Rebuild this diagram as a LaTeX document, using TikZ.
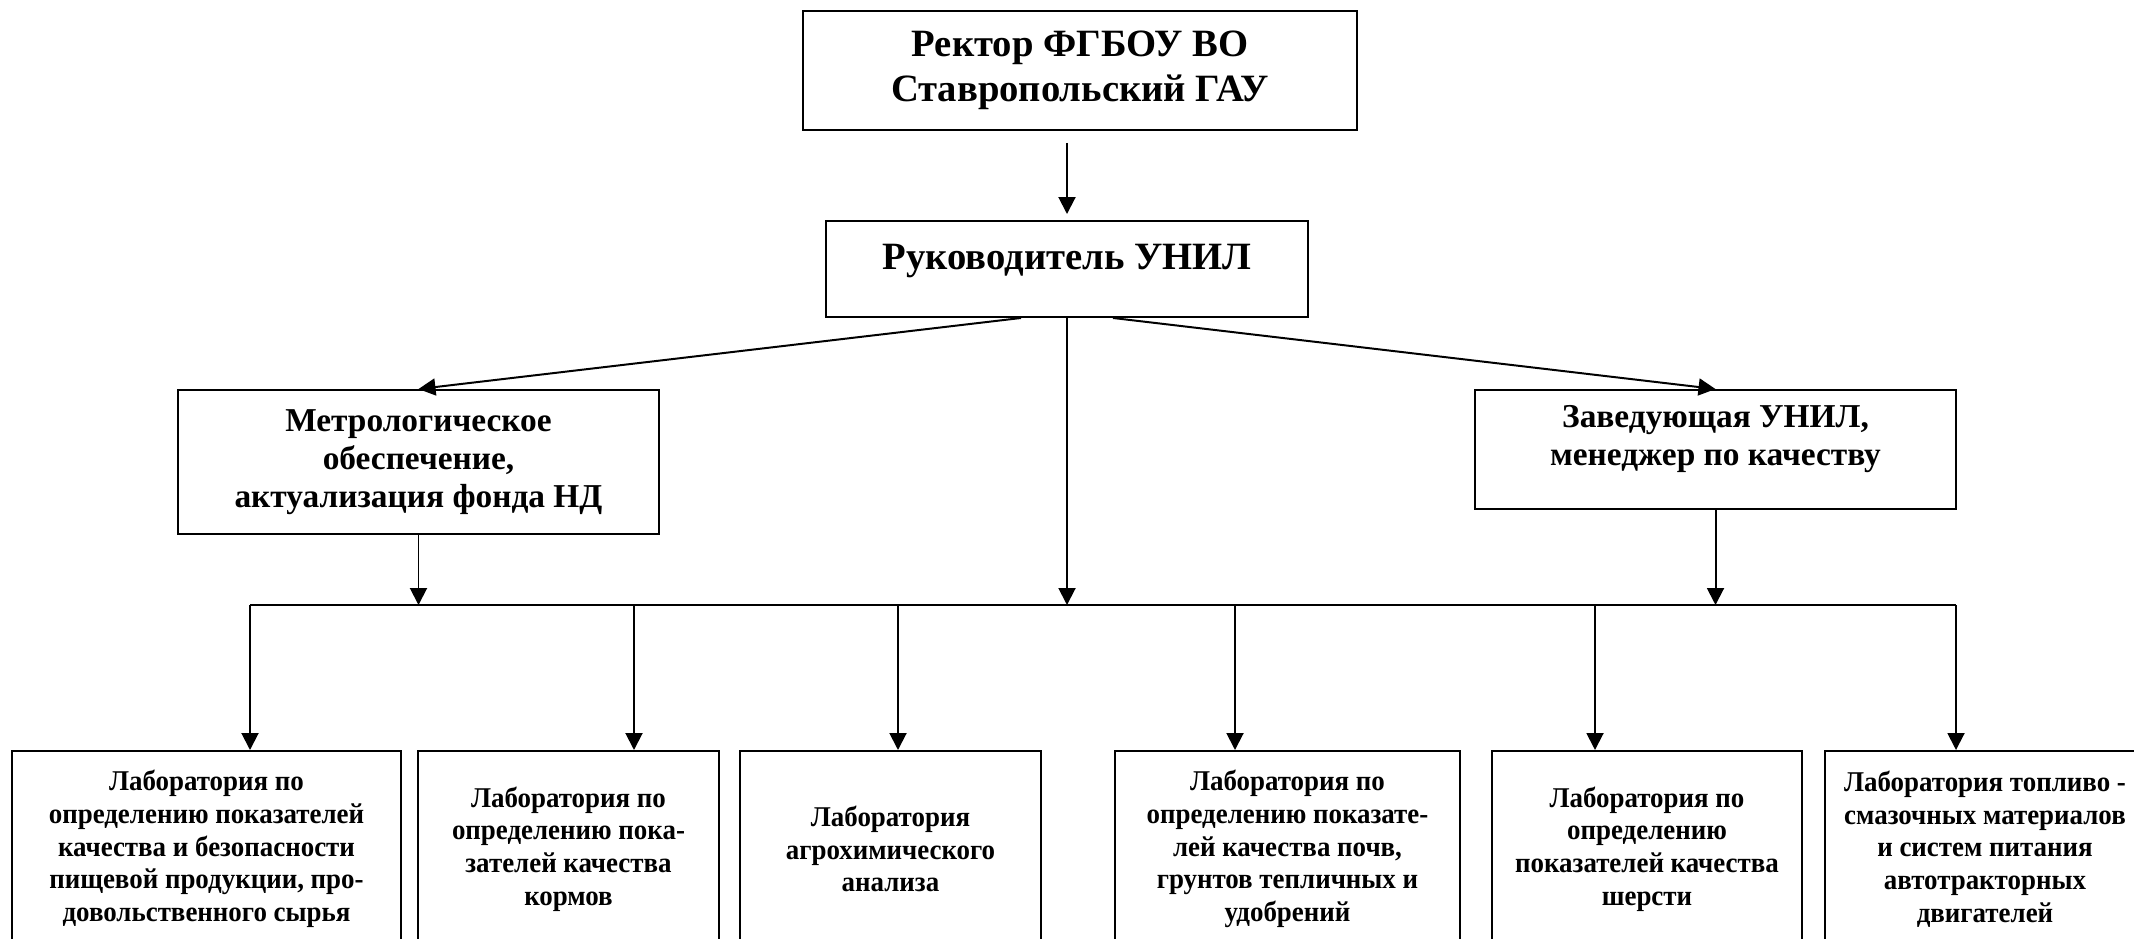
\documentclass[tikz,border=0pt]{standalone}
\usepackage{fontspec}
\setmainfont{Liberation Serif}
\newfontfamily\labfont[FakeStretch=0.94]{Liberation Serif}
\usetikzlibrary{arrows.meta}

\begin{document}
\begin{tikzpicture}[x=0.02cm,y=-0.02cm,line width=1.13pt]

    \def\ybus{605}
    \def\ylab{750}

    % Styles
    \tikzstyle{box}=[draw, rectangle, align=center, inner sep=0pt]
    \tikzstyle{topbox}=[box, font=\fontsize{22}{25.6}\selectfont\bfseries]
    \tikzstyle{midbox}=[box, font=\fontsize{19}{21.6}\selectfont\bfseries]
    \tikzstyle{labbox}=[box, anchor=north, minimum height=3.92cm, font=\labfont\fontsize{16.3}{18.6}\selectfont\bfseries]
    \tikzstyle{arr}=[-{Triangle[length=0.34cm,width=0.34cm]}]

    \useasboundingbox (0,0) rectangle (2134,939);

    % rector
    \node[topbox, minimum width=11.1cm, minimum height=2.38cm] (rector) at (1080,70.5) {Ректор ФГБОУ ВО\\Ставропольский ГАУ};

    % head of the laboratory
    \node[topbox, minimum width=9.64cm, minimum height=1.92cm, text height=0.54cm, text depth=0.5cm] (head) at (1067,269) {Руководитель УНИЛ};

    % metrology
    \node[midbox, minimum width=9.62cm, minimum height=2.88cm] (metro) at (418.5,462) {Метрологическое\\обеспечение,\\актуализация фонда НД};

    % quality manager
    \node[midbox, minimum width=9.62cm, minimum height=2.38cm, text depth=0.57cm] (manager) at (1715.5,449.5) {Заведующая УНИЛ,\\менеджер по качеству};

    % laboratories
    \node[labbox, minimum width=7.78cm] (lab1) at (206.5,\ylab) {Лаборатория по\\определению показателей\\качества и безопасности\\пищевой продукции, про-\\довольственного сырья};
    \node[labbox, minimum width=6.02cm] (lab2) at (568.5,\ylab) {Лаборатория по\\определению пока-\\зателей качества\\кормов};
    \node[labbox, minimum width=6.02cm] (lab3) at (890.5,\ylab) {Лаборатория\\агрохимического\\анализа};
    \node[labbox, minimum width=6.9cm] (lab4) at (1287.5,\ylab) {Лаборатория по\\определению показате-\\лей качества почв,\\грунтов тепличных и\\удобрений};
    \node[labbox, minimum width=6.2cm] (lab5) at (1647,\ylab) {Лаборатория по\\определению\\показателей качества\\шерсти};
    \node[labbox, minimum width=6.4cm] (lab6) at (1985,\ylab) {Лаборатория топливо -\\смазочных материалов\\и систем питания\\автотракторных\\двигателей};

    % upper arrows
    \draw[arr, shorten <=0.24cm, shorten >=0.12cm] (head.north |- rector.south) -- (head.north);
    \draw[arr] ([xshift=-0.92cm]head.south) -- (metro.north);
    \draw[arr] ([xshift=0.92cm]head.south) -- (manager.north);

    % bus
    \coordinate (busleft) at (250,\ybus);
    \coordinate (busright) at (1956,\ybus);
    \draw (busleft) -- (busright);
    \draw[arr] (head.south) -- (head.south |- busleft);
    \draw[arr] (metro.south) -- (metro.south |- busleft);
    \draw[arr] (manager.south) -- (manager.south |- busleft);

    % drops to the laboratories
    \foreach \n/\x in {1/250, 2/634, 3/898, 4/1235, 5/1595, 6/1956}{
        \coordinate (drop\n) at (\x,\ybus);
        \draw[arr] (drop\n) -- (drop\n |- lab\n.north);
    }

\end{tikzpicture}
\end{document}
